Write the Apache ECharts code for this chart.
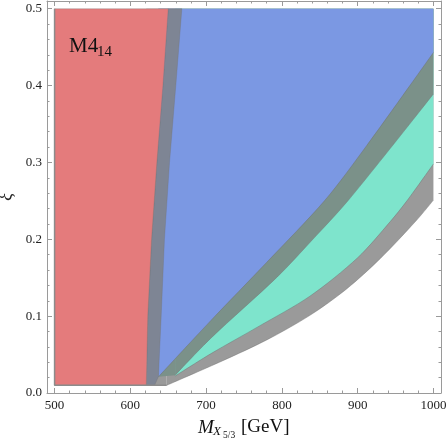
<!DOCTYPE html>
<html>
<head>
<meta charset="utf-8">
<script src="https://cdn.jsdelivr.net/npm/echarts@6/dist/echarts.min.js"></script>
<style>
html, body { margin: 0; padding: 0; background: #fff; }
#chart { width: 446px; height: 442px; }
</style>
</head>
<body>
<div id="chart"></div>
<script>
// axis ticks
var xTicks = [500, 600, 700, 800, 900, 1000];
var xMinorTicks = [520, 540, 560, 580, 620, 640, 660, 680, 720, 740, 760, 780,
    820, 840, 860, 880, 920, 940, 960, 980];
var yTicks = [0, 0.1, 0.2, 0.3, 0.4, 0.5];
var yMinorTicks = [0.02, 0.04, 0.06, 0.08, 0.12, 0.14, 0.16, 0.18, 0.22, 0.24, 0.26, 0.28,
    0.32, 0.34, 0.36, 0.38, 0.42, 0.44, 0.46, 0.48];

// red region: right edge, mass at given xi
var redEdgeXi = [0.01, 0.1, 0.2, 0.3, 0.4, 0.5];
var redEdgeM = [621, 623, 628, 635, 643, 650];
// blue region: left edge
var blueEdgeXi = [0.021, 0.1, 0.2, 0.3, 0.4, 0.5];
var blueEdgeM = [637, 640.7, 645, 651.7, 660, 668];
// lower edge of blue region
var blueLowM = [637, 706, 780, 857, 912, 1000];
var blueLowXi = [0.021, 0.094, 0.170, 0.251, 0.322, 0.443];
// foot of the dark band (blue tip to cyan tip)
var bandFootM = [637, 659];
var bandFootXi = [0.021, 0.023];
// lower edge of the dark band under blue
var bandLowM = [659, 706, 794, 840, 888, 1000];
var bandLowXi = [0.023, 0.071, 0.151, 0.199, 0.251, 0.389];
// lower edge of cyan region
var cyanLowM = [659, 706, 770, 837, 900, 943, 965, 1000];
var cyanLowXi = [0.022, 0.051, 0.087, 0.126, 0.176, 0.223, 0.250, 0.298];
// foot of grey band
var grayFootM = [621, 648];
// lower edge of grey band
var grayLowM = [648, 722, 780, 837, 885, 930, 978, 1000];
var grayLowXi = [0.010, 0.042, 0.069, 0.101, 0.135, 0.175, 0.225, 0.251];

var mMin = 500, mMax = 1000, xiMin = 0.01, xiMax = 0.5;

var serif = '"Liberation Serif", "DejaVu Serif", serif';

function pairs(ms, xis) {
    return ms.map(function (m, i) { return [m, xis[i]]; });
}

function areaAbove(ms, xis, color, z) {
    return {
        type: 'line',
        data: pairs(ms, xis),
        smooth: 0.3,
        showSymbol: false,
        symbol: 'none',
        silent: true,
        z: z,
        lineStyle: { width: 0.8, color: '#6f6f6f', opacity: 0.55 },
        areaStyle: { color: color, opacity: 1, origin: xiMax }
    };
}

function polygon(pts, color, z, edge) {
    return {
        type: 'custom',
        coordinateSystem: 'cartesian2d',
        data: pts,
        silent: true,
        z: z,
        renderItem: function (params, api) {
            if (params.dataIndex !== 0) return;
            var p = pts.map(function (d) { return api.coord(d); });
            return {
                type: 'polygon',
                shape: { points: p },
                style: { fill: color, stroke: edge ? 'rgba(110,110,110,0.5)' : color,
                    lineWidth: edge ? 0.6 : 0 }
            };
        }
    };
}

// grey foot under the tips
var grayFootPts = [[grayFootM[0], xiMin], [grayFootM[1], xiMin],
    [grayFootM[1], xiMax], [grayFootM[0], xiMax]];
// dark band foot between the tips
var bandFootPts = pairs(bandFootM, bandFootXi)
    .concat([[bandFootM[1], xiMax], [bandFootM[0], xiMax]]);
// strip between red and blue
var stripPts = pairs(redEdgeM, redEdgeXi)
    .concat(pairs(blueEdgeM, blueEdgeXi).reverse())
    .concat([[632, xiMin]]);
// red region
var redPts = [[mMin, xiMin], [mMin, xiMax]].concat(pairs(redEdgeM, redEdgeXi).reverse());

function majorAxis(pos, isX, show) {
    var ticks = isX ? xTicks : yTicks;
    return {
        type: 'value',
        position: pos,
        min: isX ? 490 : 0,
        max: isX ? 1010 : 0.51,
        splitLine: { show: false },
        axisLine: { show: true, onZero: false, lineStyle: { color: '#9a9a9a', width: 1 } },
        axisTick: { show: true, inside: true, length: 5, customValues: ticks,
            lineStyle: { color: '#9a9a9a' } },
        axisLabel: {
            show: show,
            customValues: ticks,
            margin: isX ? 6 : 5,
            color: '#222',
            fontFamily: serif,
            fontSize: 13,
            formatter: function (v) { return isX ? String(v) : v.toFixed(1); }
        }
    };
}

function minorAxis(pos, isX) {
    return {
        type: 'value',
        position: pos,
        min: isX ? 490 : 0,
        max: isX ? 1010 : 0.51,
        splitLine: { show: false },
        axisLine: { show: false, onZero: false },
        axisTick: { show: true, inside: true, length: 2.5,
            customValues: isX ? xMinorTicks : yMinorTicks,
            lineStyle: { color: '#9a9a9a' } },
        axisLabel: { show: false }
    };
}

var yAxisMain = majorAxis('left', false, true);
yAxisMain.name = 'ξ';
yAxisMain.nameLocation = 'middle';
yAxisMain.nameGap = 30;
yAxisMain.nameRotate = 90;
yAxisMain.nameTextStyle = { fontFamily: serif, fontStyle: 'italic', fontSize: 18, color: '#222' };

var chart = echarts.init(document.getElementById('chart'));
chart.setOption({
    animation: false,
    backgroundColor: '#fff',
    grid: { left: 47, right: 5, top: 1, bottom: 49, outerBoundsMode: 'none' },
    xAxis: [majorAxis('bottom', true, true), minorAxis('bottom', true),
        majorAxis('top', true, false), minorAxis('top', true)],
    yAxis: [yAxisMain, minorAxis('left', false),
        majorAxis('right', false, false), minorAxis('right', false)],
    series: [
        polygon(grayFootPts, '#9a9a9a', 1, false),
        areaAbove(grayLowM, grayLowXi, '#9a9a9a', 1),
        areaAbove(cyanLowM, cyanLowXi, '#7ee4cc', 2),
        polygon(bandFootPts, '#7b9189', 3, false),
        areaAbove(bandLowM, bandLowXi, '#7b9189', 3),
        areaAbove(blueLowM, blueLowXi, '#7b98e3', 4),
        polygon(stripPts, '#7e8594', 5, true),
        polygon(redPts, '#e47b7c', 6, true),
        {
            type: 'line',
            data: [[mMin, xiMax], [mMin, xiMin], [grayLowM[0], xiMin]],
            showSymbol: false,
            symbol: 'none',
            silent: true,
            z: 7,
            lineStyle: { width: 1.5, color: '#8c8c8c' }
        }
    ],
    graphic: [
        { type: 'text', left: 69, top: 36, z: 10,
            style: { text: 'M4', font: '21px ' + serif, fill: '#111' } },
        { type: 'text', left: 97, top: 45, z: 10,
            style: { text: '14', font: '15px ' + serif, fill: '#111' } },
        { type: 'text', left: 198, top: 418, z: 10,
            style: { text: 'M', font: 'italic 19px ' + serif, fill: '#111' } },
        { type: 'text', left: 213, top: 425, z: 10,
            style: { text: 'X', font: 'italic 13px ' + serif, fill: '#111' } },
        { type: 'text', left: 223, top: 430, z: 10,
            style: { text: '5/3', font: '9.5px ' + serif, fill: '#111' } },
        { type: 'text', left: 241, top: 418, z: 10,
            style: { text: '[GeV]', font: '19px ' + serif, fill: '#111' } }
    ]
});
</script>
</body>
</html>
